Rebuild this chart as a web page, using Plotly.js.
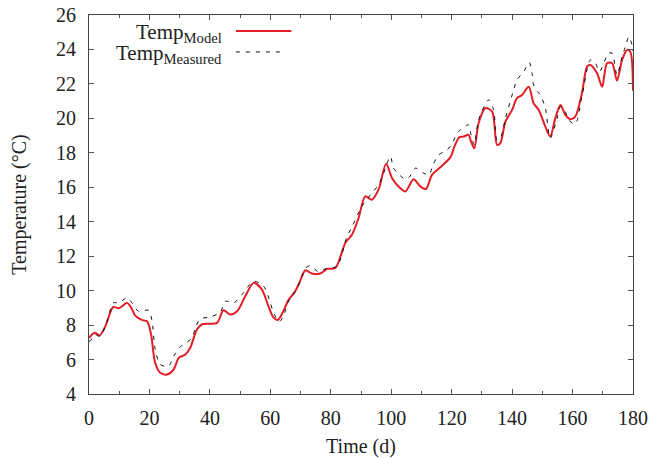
<!DOCTYPE html>
<html>
<head>
<meta charset="utf-8">
<script src="https://cdn.plot.ly/plotly-3.0.1.min.js"></script>
<style>html,body{margin:0;padding:0;background:#fff;}#chart{width:651px;height:458px;}</style>
</head>
<body>
<div id="chart"></div>
<script>
// Model temperature (time in days, temperature in °C)
const modelDays = [0,1,2,3.5,5.4,8,9.8,11,12.6,14,15.3,17.5,19.2,20.5,21.9,23.6,25.8,28,29.7,31.9,33.5,35.7,37.4,40.1,42.4,44.5,46.8,49,51.7,54.5,57.2,59.4,61,62.5,64,66,68,69.5,71.6,73.8,76.5,78.8,81.5,84.8,87,89.2,91.4,93.6,95.8,98.3,100.3,102.4,104.7,107.4,109.6,111.5,113.5,116.8,119.6,121,122.5,124,125.6,126.4,127.5,128.9,131.1,133.4,135,136.1,137.8,140,141.6,143.3,145.5,147.1,148.8,151,152.6,154.3,156,157.6,159.3,160.9,163.1,164.8,165.9,168.1,169.8,171.4,173.1,174.7,176.4,178,179.1,180];
const modelTemp = [7.25,7.45,7.55,7.4,7.93,9.05,8.98,9.1,9.29,9.0,8.55,8.3,8.22,7.5,5.8,5.23,5.13,5.42,6.1,6.29,6.68,7.74,8.05,8.08,8.13,8.86,8.61,8.8,9.67,10.45,10.06,9.09,8.45,8.3,8.7,9.45,9.9,10.4,11.18,10.99,10.99,11.26,11.31,12.77,13.25,14.21,15.47,15.28,15.86,17.36,16.53,16.05,15.76,16.47,16.05,15.9,16.72,17.25,17.75,18.4,18.9,18.95,19.04,18.66,18.27,19.72,20.59,20.39,18.46,18.56,19.81,20.49,21.17,21.36,21.84,20.88,20.49,19.52,18.95,20.01,20.78,20.2,19.95,20.1,21.46,23.0,23.1,22.62,21.84,23.2,23.2,22.19,23.39,23.97,23.87,21.6];

// Measured temperature
const measDays = [0,1,2,3.5,5.4,8.1,9.8,12.6,14.2,16.4,19.7,20.8,21.9,23.6,26.3,28,30.2,32,34.1,35.2,36.8,40.1,43.4,45.1,47.9,50.6,54.5,57.8,60,61.1,63,64.5,66,68,70,71.6,73.2,75.9,78.8,82,85.4,87,90.3,93.6,95.8,97.5,99.7,100.8,103,104.7,106,108,110.7,112.4,114,115.7,118.5,120,122.3,125.6,126.4,127.5,128.9,132.2,133.9,135,136.1,137.8,140.5,141.6,143.8,145.7,146.6,147.1,148.4,149.3,151,152.6,154.9,156,157.6,158.7,160.9,163.1,165.9,167.6,168.9,171.9,173.1,174.7,176.4,177.5,178.6,179.7,180];
const measTemp = [7.05,7.2,7.45,7.35,7.9,9.29,9.29,9.58,9.29,8.8,8.86,8.3,6.6,5.71,5.61,6.19,6.74,6.95,7.26,7.84,8.36,8.47,8.74,9.38,9.29,9.77,10.54,10.25,9.29,8.7,8.2,8.6,9.4,9.9,10.6,11.3,11.45,11.1,11.31,11.41,13.15,13.69,14.89,15.66,16.14,16.82,17.79,17.11,16.67,16.47,16.59,17.11,16.82,16.72,17.36,17.88,18.17,18.5,19.24,19.62,19.04,18.46,19.91,21.07,20.49,18.75,18.85,20.0,21.65,22.23,22.71,23.24,22.62,21.94,21.55,21.36,20.59,18.85,20.01,20.68,20.39,19.91,19.68,21.26,23.39,23.2,22.71,23.78,23.78,22.52,23.59,24.16,24.74,24.26,23.9];

const xTickVals = [0,20,40,60,80,100,120,140,160,180];
const yTickVals = [4,6,8,10,12,14,16,18,20,22,24,26];
const legendLabels = ['Temp<sub>Model</sub>', 'Temp<sub>Measured</sub>'];

const RED = 'rgb(228,30,38)';
const FONT = 'Liberation Serif, Times New Roman, serif';

const traces = [
  {x: modelDays, y: modelTemp, type: 'scatter', mode: 'lines', name: 'Model',
   line: {color: RED, width: 2, shape: 'spline', smoothing: 0.8}},
  {x: measDays, y: measTemp, type: 'scatter', mode: 'lines', name: 'Measured',
   line: {color: '#111', width: 1, dash: '4px,6px', shape: 'spline', smoothing: 0.8}}
];

const axisCommon = {
  showline: true, mirror: 'ticks', linecolor: '#444', linewidth: 1,
  ticks: 'inside', ticklen: 5, tickcolor: '#555', tickwidth: 1,
  showgrid: false, zeroline: false,
  tickfont: {family: FONT, size: 20, color: '#222'}
};

const layout = {
  width: 651, height: 458,
  margin: {l: 89, r: 18, t: 15, b: 64},
  paper_bgcolor: '#fff', plot_bgcolor: '#fff',
  showlegend: false,
  font: {family: FONT, color: '#222'},
  xaxis: Object.assign({}, axisCommon, {
    range: [0, 180], tickvals: xTickVals, ticktext: xTickVals.map(String),
    minor: {dtick: 10, tick0: 0, ticks: 'inside', ticklen: 3, tickcolor: '#555'},
    ticklabelstandoff: 6,
    title: {text: 'Time (d)', font: {family: FONT, size: 20, color: '#222'}, standoff: 10}
  }),
  yaxis: Object.assign({}, axisCommon, {
    range: [4, 26], tickvals: yTickVals, ticktext: yTickVals.map(String),
    ticklabelstandoff: 8,
    title: {text: 'Temperature (°C)', font: {family: FONT, size: 20, color: '#222'}, standoff: 24}
  }),
  annotations: [
    {xref: 'paper', yref: 'paper', x: 0.249, y: 0.953, xanchor: 'right', yanchor: 'middle',
     text: legendLabels[0], showarrow: false, font: {family: FONT, size: 21, color: '#222'}},
    {xref: 'paper', yref: 'paper', x: 0.249, y: 0.897, xanchor: 'right', yanchor: 'middle',
     text: legendLabels[1], showarrow: false, font: {family: FONT, size: 21, color: '#222'}}
  ],
  shapes: [
    {type: 'line', xref: 'paper', yref: 'paper', x0: 0.27, x1: 0.372, y0: 0.958, y1: 0.958,
     line: {color: RED, width: 2}},
    {type: 'line', xref: 'paper', yref: 'paper', x0: 0.27, x1: 0.362, y0: 0.9025, y1: 0.9025,
     line: {color: '#111', width: 1, dash: '4px,6px'}}
  ]
};

Plotly.newPlot('chart', traces, layout, {displayModeBar: false, staticPlot: true});
</script>
</body>
</html>
